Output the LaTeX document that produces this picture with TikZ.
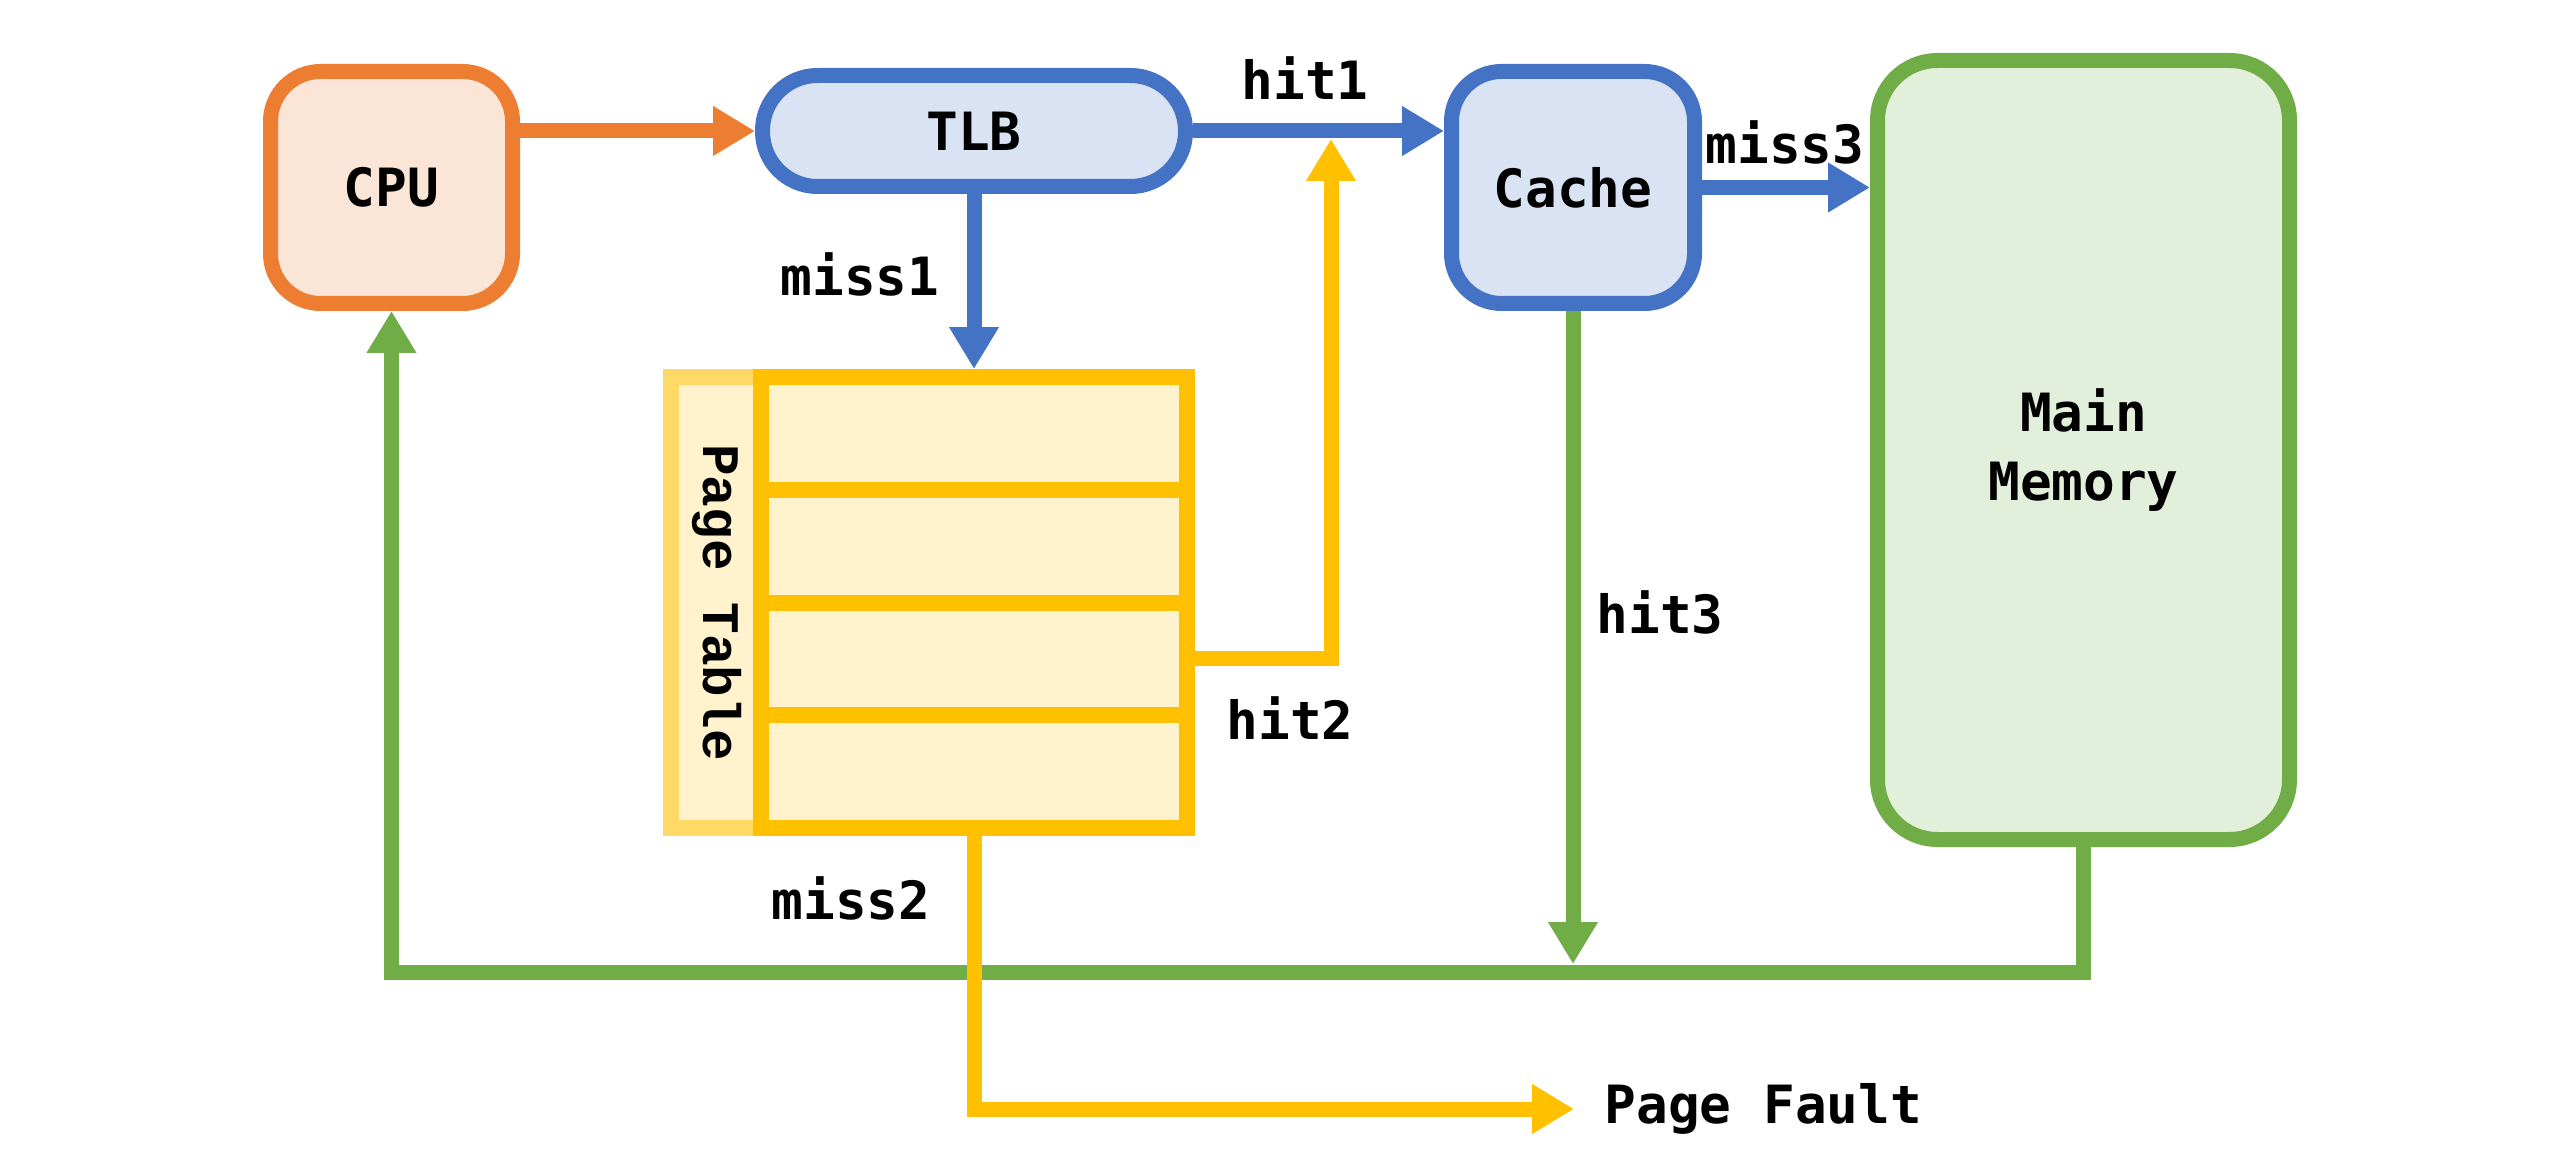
\documentclass[tikz,border=0pt]{standalone}
\usepackage{fontspec}
\usepackage{tikz}
\usetikzlibrary{arrows.meta,positioning,calc}
\usepackage{xcolor}
\newfontfamily\diagfont{DejaVu Sans Mono}
\newfontfamily\tablefont{Liberation Mono}
\definecolor{mmorange}{RGB}{237,125,49}
\definecolor{mmblue}{RGB}{68,114,196}
\definecolor{mmgreen}{RGB}{112,173,71}
\definecolor{mmyellow}{RGB}{255,192,0}
\definecolor{mmpale}{RGB}{255,217,102}
\tikzset{
    unit/.style={
        draw=#1,line width=1.5mm,rounded corners=5mm,fill=#1!20,
        align=center,text=black,font=\diagfont\bfseries\fontsize{15}{19.5}\selectfont
    },
    unit/.default=mmblue,
    row/.style={
        draw=mmyellow,line width=1.6mm,fill=mmyellow!20,
        minimum width=4.26cm,minimum height=1.1275cm
    },
    tag/.style={
        text=black,font=\diagfont\bfseries\fontsize{15}{18}\selectfont
    },
    arrow/.style={
        -{Triangle[length=4.2mm,width=4.7mm]},line width=1.5mm,draw=#1
    },
    arrow/.default=mmblue
}

\begin{document}
\begin{tikzpicture}
\useasboundingbox (0,0) rectangle (25.6,11.74);

\node[unit=mmorange,minimum width=2.42cm,minimum height=2.32cm]
(cpu) at (3.915,9.865){CPU};

\node[unit=mmblue,rounded corners=5.5mm,minimum width=4.23cm,minimum height=1.11cm]
(tlb) at (9.74,10.43){TLB};

\node[unit=mmblue,minimum width=2.43cm,minimum height=2.32cm]
(cache) at (15.73,9.865){Cache};

\node[unit=mmgreen,rounded corners=6mm,minimum width=4.12cm,minimum height=7.79cm]
(mm) at (20.835,7.24){Main\\Memory};

\node[draw=mmpale,line width=1.6mm,fill=mmyellow!20,rotate=-90,
minimum width=4.51cm,minimum height=0.92cm,
font=\tablefont\bfseries\fontsize{15}{18}\selectfont]
(ptl) at (7.17,5.715){Page Table};

\foreach \i in {1,...,4}
    \node[row] (r\i) at (9.74,{7.406-(\i-1)*1.1275}){};

\node[tag,anchor=west,inner xsep=3mm] (pf) at (15.74,0.65){Page Fault};

\coordinate (bus) at (0,2.02);
\coordinate (h2end) at (13.31,10.35);

\node[tag] (hit1) at (13.05,10.96){hit1};
\node[tag] (miss1) at (8.60,9.00){miss1};
\node[tag] (hit2) at (12.90,4.56){hit2};
\node[tag] (miss2) at (8.51,2.76){miss2};
\node[tag] (miss3) at (17.85,10.32){miss3};
\node[tag] (hit3) at (16.60,5.62){hit3};

\draw[arrow=mmgreen](mm.south)--(mm.south |- bus)--(cpu.south |- bus)--(cpu.south);
\draw[arrow=mmgreen](cache.south)--($(cache.south |- bus)+(0,0.08)$);
\draw[arrow=mmyellow](r4.south)|-(pf.west);
\draw[arrow=mmorange](cpu.east |- tlb.west)--(tlb.west);
\draw[arrow](tlb.east)--(cache.west |- tlb.east);
\draw[arrow](tlb.south)--(tlb.south |- r1.north);
\draw[arrow=mmyellow](r3.east)-|(h2end);
\draw[arrow](cache.east)--(mm.west |- cache.east);

\end{tikzpicture}
\end{document}
